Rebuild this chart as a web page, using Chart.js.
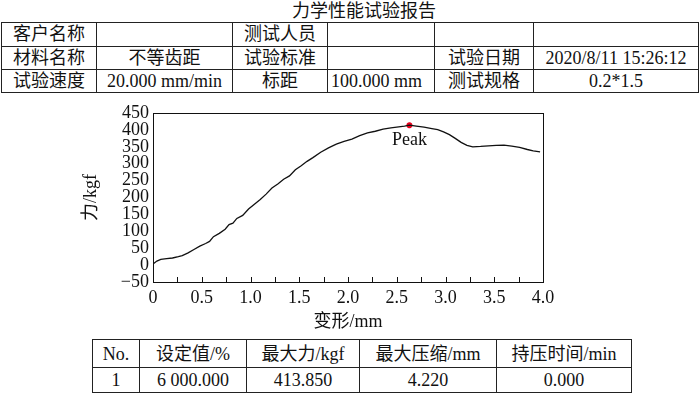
<!DOCTYPE html>
<html>
<head>
<meta charset="utf-8">
<script src="https://cdn.jsdelivr.net/npm/chart.js@4/dist/chart.umd.min.js"></script>
<style>
    html, body { margin: 0; padding: 0; background: #fff; }
    body { position: relative; width: 700px; height: 393px; overflow: hidden;
           font-family: 'Liberation Serif', 'Noto Sans CJK SC', serif; color: #111; }
    .title { position: absolute; left: 292px; top: 0; font-size: 18px; line-height: 22px; }
    table { position: absolute; border-collapse: collapse; table-layout: fixed; font-size: 18px; }
    td { border: 1px solid #222; padding: 0; text-align: center; white-space: nowrap; overflow: hidden; }
    #info { left: 1px; top: 22px; }
    #info tr { height: 23px; }
    #info td { line-height: 21px; }
    #result { left: 92px; top: 339px; }
    #result td { line-height: 24px; }
    #chart-box { position: absolute; left: 80px; top: 100px; width: 480px; height: 235px; }
</style>
</head>
<body>
<div class="title">力学性能试验报告</div>

<table id="info">
    <colgroup>
        <col style="width:95px"><col style="width:136px"><col style="width:95px">
        <col style="width:107px"><col style="width:99px"><col style="width:165px">
    </colgroup>
    <tr style="height:24px"><td>客户名称</td><td></td><td>测试人员</td><td></td><td></td><td></td></tr>
    <tr><td>材料名称</td><td>不等齿距</td><td>试验标准</td><td></td><td>试验日期</td><td>2020/8/11 15:26:12</td></tr>
    <tr><td>试验速度</td><td>20.000 mm/min</td><td>标距</td><td style="text-align:left;padding-left:3px;vertical-align:bottom">100.000 mm</td><td>测试规格</td><td>0.2*1.5</td></tr>
</table>

<div id="chart-box"><canvas id="chart" width="480" height="235"></canvas></div>

<table id="result">
    <colgroup>
        <col style="width:47px"><col style="width:107px"><col style="width:113px">
        <col style="width:137px"><col style="width:135px">
    </colgroup>
    <tr style="height:28px"><td>No.</td><td>设定值/%</td><td>最大力/kgf</td><td>最大压缩/mm</td><td>持压时间/min</td></tr>
    <tr style="height:25px"><td>1</td><td>6 000.000</td><td>413.850</td><td>4.220</td><td>0.000</td></tr>
</table>

<script>
// 変形 (mm) と 力 (kgf)
const deformation = [
    0, 0.04, 0.08, 0.14, 0.20, 0.26, 0.30, 0.36, 0.42, 0.48,
    0.54, 0.58, 0.62, 0.68, 0.74, 0.78, 0.82, 0.86, 0.92, 0.98,
    1.04, 1.10, 1.16, 1.22, 1.28, 1.34, 1.40, 1.46, 1.52, 1.58,
    1.64, 1.72, 1.80, 1.88, 1.96, 2.04, 2.12, 2.20, 2.28, 2.36,
    2.44, 2.52, 2.58, 2.63, 2.70, 2.78, 2.86, 2.92, 2.98, 3.04,
    3.10, 3.16, 3.22, 3.28, 3.36, 3.44, 3.52, 3.60, 3.68, 3.76,
    3.84, 3.90, 3.97
];
const force = [
    3, 12, 17, 19, 21, 25, 28, 36, 46, 56,
    64, 70, 84, 94, 106, 120, 124, 138, 147, 166,
    180, 194, 210, 228, 240, 254, 264, 282, 294, 307,
    318, 334, 347, 358, 366, 373, 383, 391, 396, 402,
    406, 409, 411, 413.85, 411, 408, 404, 401, 394, 386,
    375, 363, 354, 350, 351, 353, 354, 355, 352, 348,
    342, 338, 335
];
const peakX = [2.63];
const peakY = [413.85];
const peakLabels = ['Peak'];

const xTicks = { min: 0, max: 4, labelStep: 0.5, markStep: 0.25 };
const yTicks = { min: -50, max: 450, step: 50 };

const FONT = "'Liberation Serif', 'Noto Sans CJK SC', serif";

// 枠線と内向きの目盛り
const framePlugin = {
    id: 'frame',
    afterDraw(chart) {
        const { ctx, chartArea: a, scales } = chart;
        ctx.save();
        ctx.strokeStyle = '#111';
        ctx.lineWidth = 1;
        ctx.strokeRect(Math.round(a.left) + 0.5, Math.round(a.top) + 0.5,
                       Math.round(a.right - a.left), Math.round(a.bottom - a.top));
        const xs = scales.x;
        ctx.beginPath();
        for (let v = xTicks.min + xTicks.markStep; v < xTicks.max - 1e-9; v += xTicks.markStep) {
            const px = Math.round(xs.getPixelForValue(v)) + 0.5;
            ctx.moveTo(px, a.bottom);
            ctx.lineTo(px, a.bottom - 5);
        }
        ctx.stroke();

        // ピークのラベル
        const meta = chart.getDatasetMeta(1);
        ctx.fillStyle = '#111';
        ctx.font = '18px ' + FONT;
        ctx.textAlign = 'center';
        ctx.textBaseline = 'alphabetic';
        meta.data.forEach((pt, i) => {
            ctx.fillText(peakLabels[i], pt.x, pt.y + 20);
        });
        ctx.restore();
    }
};

const ctx = document.getElementById('chart').getContext('2d');
const chart = new Chart(ctx, {
    type: 'scatter',
    data: {
        datasets: [{
            data: deformation.map((x, i) => ({ x: x, y: force[i] })),
            showLine: true,
            borderColor: '#111',
            borderWidth: 1.3,
            pointRadius: 0,
            tension: 0
        }, {
            data: peakX.map((x, i) => ({ x: x, y: peakY[i] })),
            pointStyle: 'star',
            pointRadius: 3,
            borderColor: '#e8001c',
            backgroundColor: '#e8001c',
            borderWidth: 2
        }]
    },
    options: {
        responsive: false,
        animation: false,
        devicePixelRatio: 1,
        layout: { padding: { left: 0, top: 8, right: 17, bottom: 2 } },
        plugins: {
            legend: { display: false },
            tooltip: { enabled: false }
        },
        scales: {
            x: {
                type: 'linear',
                min: xTicks.min,
                max: xTicks.max,
                afterFit: (scale) => { scale.height = 51; },
                grid: { display: false, drawTicks: false },
                border: { display: false },
                ticks: {
                    stepSize: xTicks.labelStep,
                    autoSkip: false,
                    maxRotation: 0,
                    padding: 5,
                    color: '#111',
                    font: { family: FONT, size: 18 },
                    callback: (v) => v === 0 ? '0' : v.toFixed(1)
                },
                title: {
                    display: true,
                    text: '变形/mm',
                    color: '#111',
                    padding: { top: 0, bottom: 0 },
                    font: { family: FONT, size: 18 }
                }
            },
            y: {
                type: 'linear',
                min: yTicks.min,
                max: yTicks.max,
                afterFit: (scale) => { scale.width = 73; },
                grid: { display: false, drawTicks: false },
                border: { display: false },
                ticks: {
                    stepSize: yTicks.step,
                    autoSkip: false,
                    padding: 4,
                    color: '#111',
                    font: { family: FONT, size: 18, lineHeight: 1 },
                    callback: (v) => String(v).replace('-', '\u2212')
                },
                title: {
                    display: true,
                    text: '力/kgf',
                    color: '#111',
                    padding: { top: 0, bottom: 0 },
                    font: { family: FONT, size: 18 }
                }
            }
        }
    },
    plugins: [framePlugin]
});
</script>
</body>
</html>
